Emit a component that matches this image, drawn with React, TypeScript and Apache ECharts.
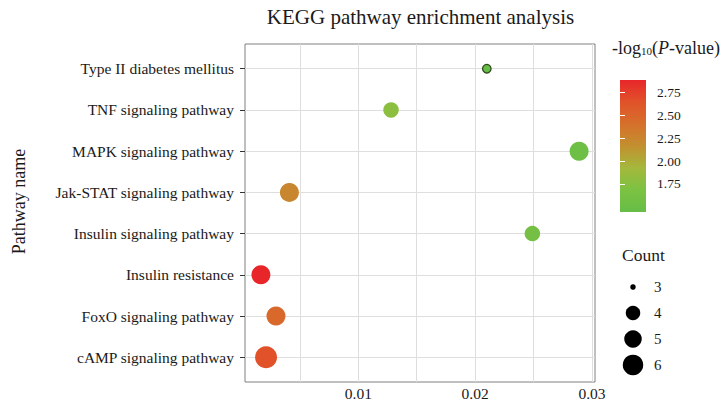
import React, { useEffect, useRef } from "react";
import * as echarts from "echarts";

const PATHWAYS = [
  "Type II diabetes mellitus",
  "TNF signaling pathway",
  "MAPK signaling pathway",
  "Jak-STAT signaling pathway",
  "Insulin signaling pathway",
  "Insulin resistance",
  "FoxO signaling pathway",
  "cAMP signaling pathway",
];
const X_VALUES = [0.021, 0.0128, 0.0289, 0.0041, 0.0249, 0.00166, 0.00295, 0.0021];
const NEG_LOG_P = [1.44, 1.78, 1.52, 2.24, 1.6, 2.89, 2.47, 2.65];
const COUNTS = [3, 4, 5, 5, 4, 5, 5, 6];

const X_TICKS = [0.01, 0.02, 0.03];
const X_GRID = [0.005, 0.01, 0.015, 0.02, 0.025, 0.03];
const COLOR_TICKS = [1.75, 2.0, 2.25, 2.5, 2.75];
const COUNT_LEVELS = [3, 4, 5, 6];

const GRADIENT = ["#66bd47", "#7cc242", "#a4b83c", "#c2902f", "#d6702b", "#e1522a", "#e8262a"];
const SIZE_OF: Record<number, number> = { 3: 8.5, 4: 15.5, 5: 19, 6: 22 };
const LEGEND_SIZE_OF: Record<number, number> = { 3: 5.5, 4: 14.5, 5: 17.5, 6: 20.5 };
const SERIF = "'Liberation Serif', 'DejaVu Serif', serif";
const TXT = "#1a1a1a";

export default function App() {
  const ref = useRef<HTMLDivElement>(null);
  useEffect(() => {
    if (!ref.current) return;
    const chart = echarts.init(ref.current, null, { renderer: "svg" });

    const xMin0 = Math.min(...X_VALUES);
    const xMax0 = Math.max(...X_VALUES);
    const pad = (xMax0 - xMin0) * 0.05;
    const cMin = Math.min(...NEG_LOG_P);
    const cMax = Math.max(...NEG_LOG_P);
    const yIdx = PATHWAYS.map((_, i) => i);

    const mainData = PATHWAYS.map((name, i) => {
      const item: any = { name, value: [X_VALUES[i], i, NEG_LOG_P[i], COUNTS[i]] };
      if (COUNTS[i] === 3) item.itemStyle = { borderColor: "#2f4a1c", borderWidth: 1.3 };
      return item;
    });

    const gradStops = GRADIENT.map((c, i) => ({ offset: i / (GRADIENT.length - 1), color: c }));

    const option: any = {
      animation: false,
      backgroundColor: "#ffffff",
      grid: [
        { left: 245, top: 44, width: 350, height: 338, show: true, backgroundColor: "#fff", borderColor: "#808080", borderWidth: 1 },
        {
          left: 620, top: 80, width: 26, height: 132, show: true, borderWidth: 0,
          backgroundColor: new echarts.graphic.LinearGradient(0, 1, 0, 0, gradStops),
        },
        { left: 620, top: 274, width: 26, height: 104, show: false },
      ],
      xAxis: [
        {
          type: "value", gridIndex: 0, min: xMin0 - pad, max: xMax0 + pad,
          axisLine: { show: false },
          splitLine: { show: false },
          axisTick: { show: true, customValues: X_TICKS, length: 4, lineStyle: { color: "#333" } },
          axisLabel: {
            customValues: X_TICKS, margin: 3, fontFamily: SERIF, fontSize: 15.5, color: TXT,
            formatter: (v: number) => v.toFixed(2),
          },
        },
        { type: "value", gridIndex: 1, min: 0, max: 1, show: false },
        { type: "category", gridIndex: 2, data: ["c"], show: false },
      ],
      yAxis: [
        {
          type: "value", gridIndex: 0, min: -0.6, max: 7.6, inverse: true,
          axisLine: { show: false },
          splitLine: { show: false },
          axisTick: { show: true, customValues: yIdx, length: 5, lineStyle: { color: "#333" } },
          axisLabel: {
            customValues: yIdx, margin: 11, fontFamily: SERIF, fontSize: 15.5, color: TXT,
            formatter: (v: number) => PATHWAYS[Math.round(v)] ?? "",
          },
        },
        {
          type: "value", gridIndex: 1, min: cMin, max: cMax, position: "right",
          axisLine: { show: false }, splitLine: { show: false },
          axisTick: { show: true, inside: true, length: 5, customValues: COLOR_TICKS, lineStyle: { color: "#ffffff", width: 1 } },
          axisLabel: {
            customValues: COLOR_TICKS, margin: 11, fontFamily: SERIF, fontSize: 13.5, color: TXT,
            formatter: (v: number) => v.toFixed(2),
          },
        },
        {
          type: "value", gridIndex: 1, min: cMin, max: cMax, position: "left",
          axisLine: { show: false }, splitLine: { show: false },
          axisTick: { show: true, inside: true, length: 5, customValues: COLOR_TICKS, lineStyle: { color: "#ffffff", width: 1 } },
          axisLabel: { show: false },
        },
        {
          type: "category", gridIndex: 2, data: COUNT_LEVELS.map(String), inverse: true, position: "right",
          axisLine: { show: false }, axisTick: { show: false }, splitLine: { show: false },
          axisLabel: { margin: 8, fontFamily: SERIF, fontSize: 15, color: TXT },
        },
      ],
      visualMap: [
        {
          type: "continuous", show: false, seriesIndex: 1, dimension: 2,
          min: cMin, max: cMax, inRange: { color: GRADIENT },
        },
      ],
      series: [
        {
          type: "line", xAxisIndex: 0, yAxisIndex: 0, data: [], z: 1, silent: true,
          markLine: {
            z: 1, silent: true, symbol: ["none", "none"], label: { show: false }, precision: 6,
            lineStyle: { color: "#dedede", type: "solid", width: 1 },
            data: [...X_GRID.map((v) => ({ xAxis: v })), ...yIdx.map((v) => ({ yAxis: v }))],
          },
        },
        {
          type: "scatter", xAxisIndex: 0, yAxisIndex: 0, z: 3,
          data: mainData,
          symbolSize: (v: number[]) => SIZE_OF[v[3]],
          itemStyle: { opacity: 1 },
        },
        {
          type: "scatter", xAxisIndex: 2, yAxisIndex: 3, z: 3,
          data: COUNT_LEVELS.map((c) => ["c", String(c), c]),
          symbolSize: (v: any[]) => LEGEND_SIZE_OF[v[2]],
          itemStyle: { color: "#000", opacity: 1 },
        },
      ],
      graphic: [
        {
          type: "text", x: 420.5, y: 17,
          style: { text: "KEGG pathway enrichment analysis", fill: TXT, fontFamily: SERIF, fontSize: 21, align: "center", verticalAlign: "middle" },
        },
        {
          type: "text", x: 19, y: 201.5, rotation: Math.PI / 2,
          style: { text: "Pathway name", fill: TXT, fontFamily: SERIF, fontSize: 18, align: "center", verticalAlign: "middle" },
        },
        {
          type: "text", x: 612, y: 48,
          style: {
            text: "{a|-log}{s|10}{a|(}{i|P}{a|-value)}",
            fill: TXT, fontFamily: SERIF, fontSize: 18, align: "left", verticalAlign: "middle",
            rich: {
              a: { fontFamily: SERIF, fontSize: 18, fill: TXT },
              s: { fontFamily: SERIF, fontSize: 11, fill: TXT, verticalAlign: "bottom", padding: [0, 0, 1, 0] },
              i: { fontFamily: SERIF, fontSize: 18, fontStyle: "italic", fill: TXT },
            },
          },
        },
        {
          type: "text", x: 622, y: 255,
          style: { text: "Count", fill: TXT, fontFamily: SERIF, fontSize: 17.5, align: "left", verticalAlign: "middle" },
        },
      ],
    };

    chart.setOption(option);
    return () => chart.dispose();
  }, []);

  return (
    <div
      ref={ref}
      style={{ position: "fixed", left: 0, top: 0, width: 723, height: 406, background: "#fff" }}
    />
  );
}
